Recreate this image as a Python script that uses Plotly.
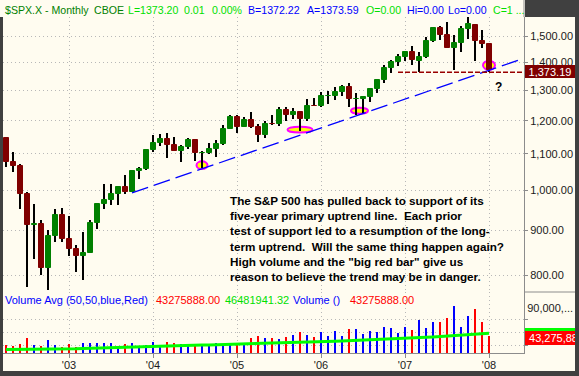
import math
import plotly.graph_objects as go

# ---------------- data ----------------
all_months = [f"{y}-{m:02d}" for y in range(2002, 2009) for m in range(1, 13)]
months = all_months[all_months.index("2002-04"):all_months.index("2008-01") + 1]

opens = [1147.39, 1076.92, 1067.14, 989.82, 911.62, 916.07, 815.28, 885.76, 936.31,
         879.82, 855.70, 841.15, 848.18, 916.92, 963.59, 974.50, 990.31, 1008.01, 995.97, 1050.71, 1058.20,
         1111.92, 1131.13, 1144.94, 1126.21, 1107.30, 1120.68, 1140.84, 1101.72, 1104.24, 1114.58, 1130.20, 1173.82,
         1211.92, 1181.27, 1203.60, 1180.59, 1156.85, 1191.50, 1191.33, 1234.18, 1220.33, 1228.81, 1207.01, 1249.48,
         1248.29, 1280.08, 1280.66, 1294.83, 1310.61, 1270.09, 1270.20, 1276.66, 1303.82, 1335.85, 1377.94, 1400.63,
         1418.03, 1437.90, 1406.80, 1420.83, 1482.37, 1530.62, 1504.66, 1455.18, 1473.96, 1527.29, 1545.79, 1479.63,
         1467.97]
highs = [1147.84, 1106.59, 1070.74, 994.46, 965.00, 924.02, 900.07, 951.50, 954.28,
         935.05, 864.64, 895.90, 924.24, 965.38, 1015.33, 1015.41, 1011.01, 1040.29, 1053.79, 1063.65, 1112.56,
         1155.38, 1158.98, 1163.23, 1150.57, 1127.74, 1146.34, 1140.84, 1108.60, 1131.54, 1142.05, 1188.46, 1217.33,
         1217.80, 1212.44, 1229.11, 1191.88, 1199.56, 1219.59, 1245.15, 1245.86, 1243.13, 1233.34, 1270.64, 1275.80,
         1294.90, 1297.57, 1310.88, 1318.16, 1326.70, 1290.68, 1280.42, 1306.74, 1340.28, 1389.45, 1407.89, 1431.81,
         1441.61, 1461.57, 1438.89, 1498.02, 1535.56, 1540.56, 1555.90, 1503.89, 1538.74, 1576.09, 1545.79, 1523.57,
         1471.77]
lows = [1063.46, 1048.96, 952.92, 775.68, 833.44, 800.20, 768.63, 872.15, 871.84,
        840.34, 806.29, 788.90, 847.85, 902.83, 951.40, 962.10, 960.84, 990.36, 995.97, 1031.20, 1053.41,
        1105.08, 1124.44, 1087.16, 1107.23, 1076.32, 1113.32, 1078.78, 1060.72, 1099.18, 1090.19, 1127.60, 1173.76,
        1163.75, 1180.95, 1176.92, 1136.15, 1146.18, 1188.30, 1183.55, 1201.07, 1205.35, 1168.20, 1201.07, 1246.59,
        1245.74, 1253.61, 1268.42, 1280.74, 1245.34, 1219.29, 1224.54, 1261.30, 1290.93, 1327.10, 1360.98, 1385.93,
        1403.97, 1389.42, 1363.98, 1416.37, 1476.70, 1484.18, 1454.25, 1370.60, 1439.29, 1489.56, 1406.10, 1455.11,
        1364.90]
closes = [1076.92, 1067.14, 989.82, 911.62, 916.07, 815.28, 885.76, 936.31, 879.82,
          855.70, 841.15, 848.18, 916.92, 963.59, 974.50, 990.31, 1008.01, 995.97, 1050.71, 1058.20, 1111.92,
          1131.13, 1144.94, 1126.21, 1107.30, 1120.68, 1140.84, 1101.72, 1104.24, 1114.58, 1130.20, 1173.82, 1211.92,
          1181.27, 1203.60, 1180.59, 1156.85, 1191.50, 1191.33, 1234.18, 1220.33, 1228.81, 1207.01, 1249.48, 1248.29,
          1280.08, 1280.66, 1294.83, 1310.61, 1270.09, 1270.20, 1276.66, 1303.82, 1335.85, 1377.94, 1400.63, 1418.30,
          1438.24, 1406.82, 1420.86, 1482.37, 1530.62, 1503.35, 1455.27, 1473.99, 1526.75, 1549.38, 1481.14, 1468.36,
          1373.20]

# monthly volume (millions) and its 50-period average
volumes = [32.6, 31.4, 33.8, 41.3, 32.6, 31.4, 38.5, 32.6, 29.9,
           33.8, 30.6, 34.6, 34.6, 35.3, 35.3, 34.6, 30.6, 33.8, 35.3, 30.6, 32.6,
           36.5, 32.6, 36.5, 35.3, 33.8, 31.4, 33.8, 31.4, 32.6, 35.3, 33.8, 35.3,
           35.3, 34.6, 41.3, 43.7, 41.3, 41.3, 39.7, 42.5, 44.8, 48.4, 44.5, 41.8,
           48.4, 43.3, 49.3, 43.3, 51.6, 51.6, 45.7, 49.3, 48.4, 53.7, 53.2, 47.2,
           54.0, 50.4, 62.4, 53.2, 60.0, 60.0, 64.4, 79.0, 54.0, 67.1, 75.4, 60.0,
           43.28]
vol_avg = [27.2, 27.2, 27.3, 27.4, 27.4, 27.5, 27.6, 27.7, 27.7,
           27.8, 28.1, 28.4, 28.7, 29.0, 29.3, 29.6, 29.9, 30.2, 30.5, 30.8, 31.1,
           31.4, 31.6, 31.7, 31.9, 32.1, 32.2, 32.4, 32.6, 32.7, 32.9, 33.1, 33.2,
           33.4, 33.6, 33.9, 34.1, 34.4, 34.6, 34.8, 35.1, 35.3, 35.6, 35.9, 36.2,
           36.5, 36.8, 37.1, 37.4, 37.7, 38.0, 38.3, 38.6, 38.9, 39.2, 39.5, 39.8,
           40.1, 40.6, 41.2, 41.7, 42.2, 42.8, 43.3, 43.8, 44.4, 44.9, 45.4, 46.0,
           46.48]

price_ticks = [800, 900, 1000, 1100, 1200, 1300, 1400, 1500]
price_tick_labels = ["800.00", "900.00", "1,000.00", "1,100.00", "1,200.00", "1,300.00", "1,400.00", "1,500.00"]
year_labels = ["'03", "'04", "'05", "'06", "'07", "'08"]

trend_months = ["2003-10", "2008-01"]      # anchors of the uptrend line
trend_values = [993.0, 1371.0]
support_start = "2006-12"
support_level = 1364.0
hl_months = ["2004-08", "2005-10", "2006-06", "2008-01"]   # highlighted support tests
hl_values = [1055.0, 1161.5, 1220.4, 1370.0]

# ---------------- geometry / styling ----------------
W, H = 579, 376
L, R, T, B = 3, 55, 17, 23
PW, PH = W - L - R, H - T - B
FONT = "Liberation Sans, Arial, sans-serif"
CREAM = "#FFFCF0"
DARK = "#404040"
GRID = "#B8B8B8"
AXIS = "#8C8C8C"
UP, DOWN = "#008000", "#800000"
XMIN, XMAX = -0.43, 74.0
split = 61 / PH  # volume panel share

def px_x(px):
    return (px - L) / PW

def px_y(py):
    return (H - B - py) / PH

idx = list(range(len(months)))
is_up = [c >= o for o, c in zip(opens, closes)]
body_col = [UP if u else DOWN for u in is_up]
vol_col = ["#0000FF" if u else "#FF0000" for u in is_up]

fig = go.Figure()
# wicks
fig.add_trace(go.Bar(x=idx, y=[h - l for h, l in zip(highs, lows)], base=lows, width=2 / 7,
                     marker=dict(color="black", line=dict(width=0)), xaxis="x2", yaxis="y2"))
# bodies
fig.add_trace(go.Bar(x=idx, y=[abs(c - o) for o, c in zip(opens, closes)],
                     base=[min(o, c) for o, c in zip(opens, closes)], width=5 / 7,
                     marker=dict(color=body_col, line=dict(color=body_col, width=1)),
                     xaxis="x2", yaxis="y2"))

# trend line (log-linear), extended to the right edge
m0, m1 = months.index(trend_months[0]), months.index(trend_months[1])
lv0, lv1 = math.log(trend_values[0]), math.log(trend_values[1])
slope = (lv1 - lv0) / (m1 - m0)
x_end = 73.7
fig.add_trace(go.Scatter(x=[m0, x_end], y=[trend_values[0], math.exp(lv0 + slope * (x_end - m0))],
                         mode="lines", line=dict(color="#0000FF", width=1.3, dash="17px,6px"),
                         xaxis="x2", yaxis="y2"))
# support line
ms = months.index(support_start)
fig.add_trace(go.Scatter(x=[ms, XMAX], y=[support_level, support_level], mode="lines",
                         line=dict(color="#990000", width=1.5, dash="5px,2px"),
                         xaxis="x2", yaxis="y2"))

# volume
fig.add_trace(go.Bar(x=idx, y=volumes, width=2 / 7, marker=dict(color=vol_col, line=dict(width=0)),
                     xaxis="x", yaxis="y"))
fig.add_trace(go.Scatter(x=idx, y=vol_avg, mode="lines", line=dict(color="#00FF00", width=3),
                         xaxis="x", yaxis="y"))

jan_idx = [i for i, m in enumerate(months) if m.endswith("-01")]

shapes = [
    dict(type="rect", xref="paper", yref="paper", x0=px_x(3), x1=px_x(575), y0=px_y(371), y1=1,
         fillcolor=CREAM, line=dict(width=0), layer="below"),
    dict(type="rect", xref="paper", yref="paper", x0=px_x(0), x1=px_x(525), y0=1, y1=px_y(0),
         fillcolor=CREAM, line=dict(width=0), layer="below"),
    dict(type="line", xref="paper", yref="paper", x0=1, x1=1, y0=1, y1=px_y(0),
         line=dict(color=AXIS, width=1)),
    dict(type="line", xref="paper", yref="paper", x0=1, x1=px_x(575), y0=split, y1=split,
         line=dict(color=AXIS, width=1)),
]
ell = [(13, 19, 0), (27, 15, 0), (19, 15.5, 3.5), (14, 21.5, 0)]
for mth, val, (w, h, dx) in zip(hl_months, hl_values, ell):
    shapes.append(dict(type="circle", xref="x2", yref="y2", xsizemode="pixel", ysizemode="pixel",
                       xanchor=months.index(mth), yanchor=val,
                       x0=dx - (w - 2) / 2, x1=dx + (w - 2) / 2, y0=-(h - 2) / 2, y1=(h - 2) / 2,
                       fillcolor="#FFFF00", line=dict(color="#FF00FF", width=2), layer="between"))

ann = []

def txt(px, py, s, color, size=11, anchor="left", **kw):
    ann.append(dict(xref="paper", yref="paper", x=px_x(px), y=px_y(py), text=s, showarrow=False,
                    xanchor=anchor, yanchor="middle", borderpad=0, borderwidth=0,
                    font=dict(family=FONT, size=size, color=color), **kw))

LIME = "#00E000"
BLUE = "#0000FF"
header = [(5, "$SPX.X - Monthly", "#008000"), (94, "CBOE", "#008000"),
          (128, "L=1373.20", LIME), (184, "0.01", LIME), (212, "0.00%", LIME),
          (248, "B=1372.22", BLUE), (307, "A=1373.59", BLUE), (366, "O=0.00", LIME),
          (407, "Hi=0.00", BLUE), (448, "Lo=0.00", BLUE), (493, "C=1 ...", LIME)]
for px, s, c in header:
    txt(px, 10, s, c, size=10.6)

vol_info = [(5, "Volume Avg (50,50,blue,Red)", BLUE), (156, "43275888.00", "#FF0000"),
            (225, "46481941.32", LIME), (293, "Volume ()", BLUE), (350, "43275888.00", "#FF0000")]
for px, s, c in vol_info:
    txt(px, 300, s, c)

body = ("<b>The S&amp;P 500 has pulled back to support of its<br>"
        "five-year primary uptrend line.  Each prior<br>"
        "test of support led to a resumption of the long-<br>"
        "term uptrend.  Will the same thing happen again?<br>"
        "High volume and the \"big red bar\" give us<br>"
        "reason to believe the trend may be in danger.</b>")
txt(230, 238, body.replace("  ", "&nbsp; "), "black", size=11.7, align="left")
txt(498, 87, "<b>?</b>", "black", size=12, anchor="center")

# price label box
ann.append(dict(xref="paper", yref="y2", x=px_x(524.5), y=math.log10(closes[-1]), yshift=-2,
                text="1,373.19", showarrow=False, xanchor="left", yanchor="middle",
                bgcolor="#800000", borderpad=1, borderwidth=0, width=48, height=11, align="center",
                font=dict(family=FONT, size=11, color="white")))
# volume label boxes (average box sits behind the volume box)
ann.append(dict(xref="paper", yref="y", x=px_x(524.5), y=vol_avg[-1], yshift=-1.5,
                text=" ", showarrow=False, xanchor="left", yanchor="middle",
                bgcolor="#00FF00", borderpad=1, borderwidth=0, width=52, height=12,
                font=dict(family=FONT, size=11, color="white")))
ann.append(dict(xref="paper", yref="y", x=px_x(524.5), y=volumes[-1], yshift=-2,
                text="&nbsp;43,275,888.00", showarrow=False, xanchor="left", yanchor="middle",
                bgcolor="#FF0000", borderpad=1, borderwidth=0, height=12, align="left",
                font=dict(family=FONT, size=11, color="white")))
# right frame strip drawn over the clipped boxes
ann.append(dict(xref="paper", yref="paper", x=px_x(575), y=px_y(188), text=" ", showarrow=False,
                xanchor="left", yanchor="middle", bgcolor=DARK, borderpad=0, borderwidth=0,
                width=8, height=380, font=dict(size=4)))

vol_range = [23.07, 95.7]
fig.update_layout(
    width=W, height=H, margin=dict(l=L, r=R, t=T, b=B, pad=0),
    paper_bgcolor=DARK, plot_bgcolor=CREAM, showlegend=False, barmode="overlay", bargap=0,
    font=dict(family=FONT, size=11, color="#1a1a1a"),
    xaxis=dict(domain=[0, 1], anchor="y", range=[XMIN, XMAX], tickmode="array", tickvals=jan_idx,
               ticktext=year_labels, showgrid=True, gridcolor=GRID, griddash="1px,3px", gridwidth=1,
               showline=True, linecolor=AXIS, linewidth=1, ticks="outside", ticklen=4, tickcolor=AXIS,
               ticklabelstandoff=-2,
               zeroline=False, tickfont=dict(size=11, color="#1a1a1a")),
    xaxis2=dict(domain=[0, 1], anchor="y2", matches="x", tickmode="array", tickvals=jan_idx,
                showticklabels=False, showgrid=True, gridcolor=GRID, griddash="1px,3px",
                showline=False, ticks="", zeroline=False),
    yaxis2=dict(domain=[split, 1], anchor="x2", side="right", type="log",
                range=[math.log10(765.0), math.log10(1577.4)], tickmode="array",
                tickvals=price_ticks, ticktext=price_tick_labels, showgrid=True, gridcolor=GRID,
                griddash="1px,3px", showline=True, linecolor=AXIS, linewidth=1, ticks="outside",
                ticklen=3, tickcolor=AXIS, zeroline=False, tickfont=dict(size=11, color="#1a1a1a")),
    yaxis=dict(domain=[0, split], anchor="x", side="right", range=vol_range, tickmode="array",
               tickvals=[76.6], ticktext=["90,000,..."], showgrid=False,
               showline=True, linecolor=AXIS, linewidth=1, ticks="", zeroline=False,
               tickfont=dict(size=11, color="#1a1a1a"),
               minor=dict(tickvals=[63.2, 47.7, 32.6], showgrid=True, gridcolor=GRID,
                          griddash="1px,3px", ticks="outside", ticklen=3, tickcolor=AXIS)),
    shapes=shapes, annotations=ann,
)

fig.write_html("out.html", config={"displayModeBar": False},
               post_script="document.body.style.margin='0';document.body.style.overflow='hidden';")
